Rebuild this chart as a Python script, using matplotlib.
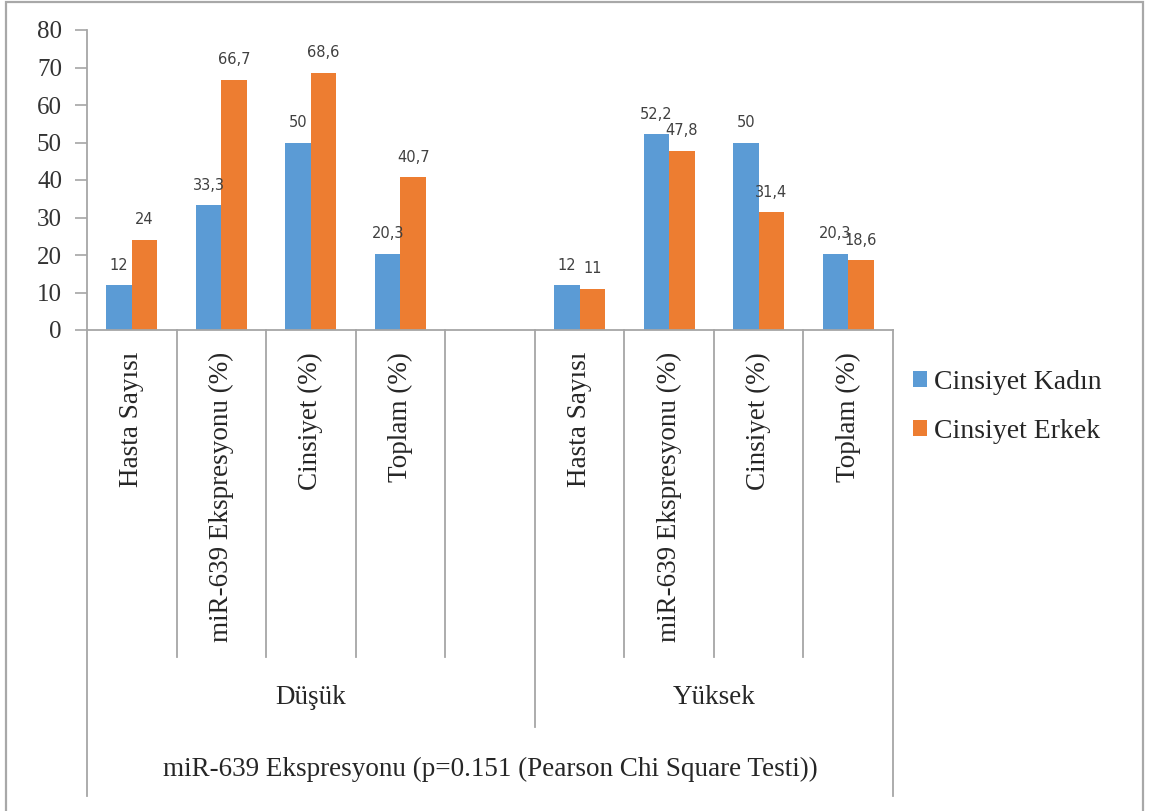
import matplotlib
matplotlib.use("Agg")
import matplotlib.pyplot as plt
import matplotlib.transforms as mtransforms
from matplotlib.patches import Patch, Rectangle
import numpy as np

# ---- data ----
groups = ["Düşük", "Yüksek"]
categories = ["Hasta Sayısı", "miR-639 Ekspresyonu (%)", "Cinsiyet (%)", "Toplam (%)"]
kadin_dusuk = [12, 33.3, 50, 20.3]
erkek_dusuk = [24, 66.7, 68.6, 40.7]
kadin_yuksek = [12, 52.2, 50, 20.3]
erkek_yuksek = [11, 47.8, 31.4, 18.6]
series_names = ["Cinsiyet Kadın", "Cinsiyet Erkek"]
outer_title = "miR-639 Ekspresyonu (p=0.151 (Pearson Chi Square Testi))"
yticks = [0, 10, 20, 30, 40, 50, 60, 70, 80]

BLUE = "#5B9BD5"
ORANGE = "#ED7D31"
LINE = "#A6A6A6"
TXT = "#262626"
SERIF = ["Liberation Serif", "DejaVu Serif"]

W, H = 1150, 811
fig = plt.figure(figsize=(W / 100, H / 100), dpi=100)
fig.patch.set_facecolor("white")


def fx(px):
    return px / W


def fy(py):
    return 1 - py / H


# outer frame of the chart
fig.add_artist(Rectangle((fx(6), fy(815)), fx(1143) - fx(6), fy(2) - fy(815),
                         transform=fig.transFigure, fill=False,
                         edgecolor="#A8A8A8", linewidth=1.6, clip_on=False))

ax = fig.add_axes([fx(87), fy(330), fx(893) - fx(87), fy(30) - fy(330)])

# slot layout: 4 categories + empty slot for the first group, 4 for the second
dusuk_slots = np.arange(len(categories))
yuksek_slots = np.arange(len(categories)) + len(categories) + 1
n_slots = len(categories) * 2 + 1
bw = 0.285

kadin = list(kadin_dusuk) + list(kadin_yuksek)
erkek = list(erkek_dusuk) + list(erkek_yuksek)
centers = np.concatenate([dusuk_slots, yuksek_slots]) + 0.5

b1 = ax.bar(centers - bw / 2, kadin, width=bw, color=BLUE, label=series_names[0])
b2 = ax.bar(centers + bw / 2, erkek, width=bw, color=ORANGE, label=series_names[1])


def fmt(v):
    s = f"{v:g}"
    return s.replace(".", ",")


for rects, vals in ((b1, kadin), (b2, erkek)):
    for r, v in zip(rects, vals):
        ax.annotate(fmt(v), (r.get_x() + r.get_width() / 2, v),
                    xytext=(0, 9), textcoords="offset points",
                    ha="center", va="bottom", fontsize=10.5,
                    family="DejaVu Sans", color="#404040")

ax.set_xlim(0, n_slots)
ax.set_ylim(0, 80)
ax.set_yticks(yticks)
ax.set_yticklabels([str(t) for t in yticks], family=SERIF, fontsize=18, color="#333333")
ax.tick_params(axis="y", length=9, width=1.2, color=LINE, pad=9)
ax.set_xticks([])
for s in ("top", "right"):
    ax.spines[s].set_visible(False)
for s in ("left", "bottom"):
    ax.spines[s].set_color(LINE)
    ax.spines[s].set_linewidth(1.3)

# multi-level category axis below the plot
trans = mtransforms.blended_transform_factory(ax.transData, fig.transFigure)
lw = 1.3
# inner separators
for x in list(range(1, len(categories) + 1)) + list(range(len(categories) + 2, n_slots)):
    ax.plot([x, x], [fy(330), fy(657)], transform=trans, color=LINE, lw=lw, clip_on=False)
# group separator
sep = len(categories) + 1
ax.plot([sep, sep], [fy(330), fy(727)], transform=trans, color=LINE, lw=lw, clip_on=False)
# outer edges
for x in (0, n_slots):
    ax.plot([x, x], [fy(330), fy(796)], transform=trans, color=LINE, lw=lw, clip_on=False)

for slots in (dusuk_slots, yuksek_slots):
    for s, cat in zip(slots, categories):
        ax.text(s + 0.5, fy(352), cat, transform=trans, rotation=90,
                ha="center", va="top", family=SERIF, fontsize=19.5, color=TXT)

ax.text((0 + sep) / 2, fy(697), groups[0], transform=trans, ha="center", va="center",
        family=SERIF, fontsize=19.5, color=TXT)
ax.text((sep + n_slots) / 2, fy(697), groups[1], transform=trans, ha="center", va="center",
        family=SERIF, fontsize=19.5, color=TXT)
ax.text(n_slots / 2, fy(769), outer_title, transform=trans, ha="center", va="center",
        family=SERIF, fontsize=19.5, color=TXT)

handles = [Patch(facecolor=BLUE, edgecolor="none"), Patch(facecolor=ORANGE, edgecolor="none")]
fig.legend(handles, series_names, loc="center left",
           bbox_to_anchor=(fx(902), fy(407)), frameon=False,
           prop={"family": SERIF, "size": 20}, handlelength=0.5, handleheight=0.5,
           handletextpad=0.25, labelspacing=0.85, borderaxespad=0, labelcolor=TXT)

fig.savefig("out.png", dpi=100, facecolor="white")
